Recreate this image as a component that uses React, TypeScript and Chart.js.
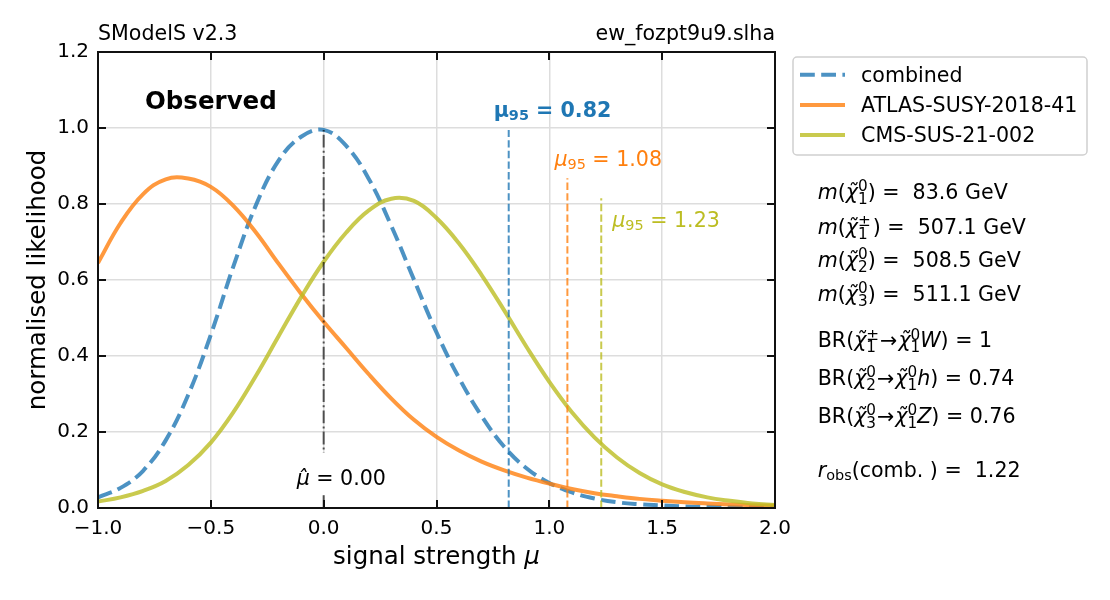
import React, { useEffect, useRef } from "react";
import { Chart, registerables } from "chart.js";

Chart.register(...registerables);

const FAMILY = '"DejaVu Sans"';

// ---------------- data ----------------
const muGrid = [
  -1.0, -0.9, -0.8, -0.7, -0.6, -0.5, -0.4, -0.3, -0.2, -0.1, 0.0, 0.1, 0.2, 0.3, 0.4, 0.5,
  0.6, 0.7, 0.8, 0.9, 1.0, 1.1, 1.2, 1.3, 1.4, 1.5, 1.6, 1.7, 1.8, 1.9, 2.0,
];
const combinedLik = [
  0.028, 0.053, 0.098, 0.178, 0.298, 0.456, 0.636, 0.797, 0.914, 0.977, 0.995, 0.953, 0.866,
  0.742, 0.601, 0.462, 0.342, 0.242, 0.161, 0.104, 0.066, 0.041, 0.025, 0.015, 0.01, 0.007,
  0.004, 0.003, 0.002, 0.001, 0.001,
];
const atlasLik = [
  0.645, 0.75, 0.826, 0.865, 0.867, 0.845, 0.795, 0.725, 0.643, 0.564, 0.49, 0.421, 0.352,
  0.288, 0.232, 0.187, 0.151, 0.122, 0.099, 0.08, 0.064, 0.05, 0.039, 0.031, 0.024, 0.019, 0.015,
  0.012, 0.0095, 0.0075, 0.006,
];
const cmsLik = [
  0.017, 0.028, 0.045, 0.071, 0.113, 0.172, 0.252, 0.348, 0.452, 0.555, 0.648, 0.725, 0.783,
  0.814, 0.808, 0.763, 0.696, 0.613, 0.52, 0.423, 0.332, 0.252, 0.186, 0.133, 0.092, 0.062,
  0.042, 0.028, 0.019, 0.012, 0.008,
];
const seriesNames = ["combined", "ATLAS-SUSY-2018-41", "CMS-SUS-21-002"];
const mu95Values = [0.82, 1.08, 1.23];
const mu95Tops = [0.995, 0.868, 0.815];
const muHatValue = 0.0;
const muHatTop = 0.995;
const xTickValues = [-1.0, -0.5, 0.0, 0.5, 1.0, 1.5, 2.0];
const yTickValues = [0.0, 0.2, 0.4, 0.6, 0.8, 1.0, 1.2];
const massSupers = ["0", "\u00b1", "0", "0"];
const massSubs = ["1", "1", "2", "3"];
const massValues = [83.6, 507.1, 508.5, 511.1];
const brValues = ["1", "0.74", "0.76"];
const rObsValue = 1.22;
const toolLabel = "SModelS v2.3";
const fileLabel = "ew_fozpt9u9.slha";

// ---------------- style ----------------
const lineColors = ["rgba(31,119,180,0.8)", "rgba(255,127,14,0.8)", "rgba(188,189,34,0.8)"];
const textColors = ["#1f77b4", "#ff7f0e", "#bcbd22"];
const curveDash = [[14.8, 6.4], [], []];
const TXT = 20.6;
const SCRIPT = 0.74;

type Seg =
  | { t: string; it?: boolean; bold?: boolean }
  | { sup?: string; sub?: string }
  | { gap: number };

function font(size: number, it = false, bold = false) {
  return `${it ? "italic " : ""}${bold ? "bold " : ""}${size}px ${FAMILY}`;
}

function measureRuns(ctx: CanvasRenderingContext2D, segs: Seg[], size: number, bold = false) {
  let w = 0;
  for (const s of segs) {
    if ("gap" in s) {
      w += s.gap;
    } else if ("t" in s) {
      ctx.font = font(size, s.it, bold || s.bold);
      w += ctx.measureText(s.t).width;
    } else {
      ctx.font = font(size * SCRIPT, false, bold);
      w += Math.max(
        s.sup ? ctx.measureText(s.sup).width : 0,
        s.sub ? ctx.measureText(s.sub).width : 0
      );
    }
  }
  return w;
}

function drawRuns(
  ctx: CanvasRenderingContext2D,
  x: number,
  y: number,
  segs: Seg[],
  size: number,
  color: string,
  bold = false
) {
  ctx.fillStyle = color;
  ctx.textAlign = "left";
  ctx.textBaseline = "alphabetic";
  let cx = x;
  for (const s of segs) {
    if ("gap" in s) {
      cx += s.gap;
    } else if ("t" in s) {
      ctx.font = font(size, s.it, bold || s.bold);
      ctx.fillText(s.t, cx, y);
      cx += ctx.measureText(s.t).width;
    } else {
      const both = !!s.sup && !!s.sub;
      const ss = size * (both ? SCRIPT : 0.7);
      ctx.font = font(ss, false, bold);
      let w = 0;
      if (s.sup) {
        ctx.fillText(s.sup, cx, y - size * 0.37);
        w = Math.max(w, ctx.measureText(s.sup).width);
      }
      if (s.sub) {
        ctx.fillText(s.sub, cx, y + size * (both ? 0.25 : 0.17));
        w = Math.max(w, ctx.measureText(s.sub).width);
      }
      cx += w;
    }
  }
  return cx;
}

const CHI = "\u03c7\u0303";

const annotatePlugin = {
  id: "annotate",
  beforeDraw(chart: any) {
    const ctx = chart.ctx as CanvasRenderingContext2D;
    ctx.save();
    ctx.fillStyle = "#ffffff";
    ctx.fillRect(0, 0, chart.width, chart.height);
    ctx.restore();
  },
  afterDatasetsDraw(chart: any) {
    const ctx = chart.ctx as CanvasRenderingContext2D;
    const xs = chart.scales.x;
    const ys = chart.scales.y;
    ctx.save();
    // mu-hat label with white box
    const hx = xs.getPixelForValue(muHatValue);
    const hy = ys.getPixelForValue(0);
    ctx.fillStyle = "#ffffff";
    ctx.fillRect(hx - 31, hy - 55, 93, 42);
    drawRuns(
      ctx,
      hx - 27,
      hy - 23,
      [{ t: "\u03bc\u0302", it: true }, { t: " = " + muHatValue.toFixed(2) }],
      TXT,
      "#000000"
    );
    // mu95 labels (offsets relative to the top of each vertical line)
    const offs = [
      [-15, -13.2],
      [-13, -12.2],
      [11, 28.4],
    ];
    mu95Values.forEach((m, i) => {
      const px = xs.getPixelForValue(m) + offs[i][0];
      const py = ys.getPixelForValue(mu95Tops[i]) + offs[i][1];
      const bold = i === 0;
      drawRuns(
        ctx,
        px,
        py,
        [{ t: "\u03bc", it: !bold }, { sub: "95" }, { t: " = " + m.toFixed(2) }],
        TXT,
        textColors[i],
        bold
      );
    });
    ctx.restore();
  },
  afterDraw(chart: any) {
    const ctx = chart.ctx as CanvasRenderingContext2D;
    const a = chart.chartArea;
    const xs = chart.scales.x;
    const ys = chart.scales.y;
    ctx.save();
    // frame
    ctx.strokeStyle = "#111111";
    ctx.lineWidth = 2;
    ctx.strokeRect(a.left, a.top, a.right - a.left, a.bottom - a.top);
    // inward ticks on all sides
    ctx.lineWidth = 2;
    ctx.beginPath();
    const TL = 8;
    xTickValues.forEach((v) => {
      const px = Math.round(xs.getPixelForValue(v));
      ctx.moveTo(px, a.bottom);
      ctx.lineTo(px, a.bottom - TL);
      ctx.moveTo(px, a.top);
      ctx.lineTo(px, a.top + TL);
    });
    yTickValues.forEach((v) => {
      const py = Math.round(ys.getPixelForValue(v));
      ctx.moveTo(a.left, py);
      ctx.lineTo(a.left + TL, py);
      ctx.moveTo(a.right, py);
      ctx.lineTo(a.right - TL, py);
    });
    ctx.stroke();

    // top texts
    ctx.fillStyle = "#000";
    ctx.font = font(TXT);
    ctx.textBaseline = "alphabetic";
    ctx.textAlign = "left";
    ctx.fillText(toolLabel, a.left, a.top - 12.5);
    ctx.textAlign = "right";
    ctx.fillText(fileLabel, a.right, a.top - 12.5);
    ctx.textAlign = "left";
    ctx.font = font(24.5, false, true);
    ctx.fillText("Observed", a.left + 47, a.top + 57.3);

    // axis labels
    const xl: Seg[] = [{ t: "signal strength " }, { t: "\u03bc", it: true }];
    const xw = measureRuns(ctx, xl, 24.5);
    drawRuns(ctx, (a.left + a.right) / 2 - xw / 2, 564, xl, 24.5, "#000");
    ctx.save();
    ctx.translate(45, (a.top + a.bottom) / 2);
    ctx.rotate(-Math.PI / 2);
    ctx.font = font(24.5);
    ctx.textAlign = "center";
    ctx.fillStyle = "#000";
    ctx.fillText("normalised likelihood", 0, 0);
    ctx.restore();

    // legend
    const lx = 793;
    const ly = 57;
    ctx.beginPath();
    (ctx as any).roundRect(lx, ly, 294, 98, 4);
    ctx.fillStyle = "rgba(255,255,255,0.8)";
    ctx.fill();
    ctx.strokeStyle = "#d0d0d0";
    ctx.lineWidth = 1.5;
    ctx.stroke();
    seriesNames.forEach((name, i) => {
      const base = 81.7 + i * 30.2;
      const my = base - 7;
      ctx.beginPath();
      ctx.setLineDash(curveDash[i]);
      ctx.strokeStyle = lineColors[i];
      ctx.lineWidth = 4;
      ctx.moveTo(800, my);
      ctx.lineTo(845, my);
      ctx.stroke();
      ctx.setLineDash([]);
      ctx.fillStyle = "#000";
      ctx.font = font(TXT);
      ctx.textAlign = "left";
      ctx.fillText(name, 861, base);
    });

    // info block
    const ix = 817.7;
    const massBase = [199, 234, 266.7, 300.7];
    massValues.forEach((mv, i) => {
      drawRuns(
        ctx,
        ix,
        massBase[i],
        [
          { t: "m", it: true },
          { t: "(" },
          { t: CHI, it: true },
          { sup: massSupers[i], sub: massSubs[i] },
          { gap: i === 1 ? 2 : 0 },
          { t: ")" },
          { t: " =  " + mv.toFixed(1) + " GeV" },
        ],
        TXT,
        "#000"
      );
    });
    const brFrom = [
      ["\u00b1", "1"],
      ["0", "2"],
      ["0", "3"],
    ];
    const brTo = ["W", "h", "Z"];
    const brBase = [347.3, 385, 422.7];
    brValues.forEach((bv, i) => {
      drawRuns(
        ctx,
        ix,
        brBase[i],
        [
          { t: "BR(" },
          { t: CHI, it: true },
          { sup: brFrom[i][0], sub: brFrom[i][1] },
          { gap: 1 },
          { t: "\u2192" },
          { gap: 1 },
          { t: CHI, it: true },
          { sup: "0", sub: "1" },
          { t: brTo[i], it: true },
          { t: ")" },
          { t: " = " + bv },
        ],
        TXT,
        "#000"
      );
    });
    drawRuns(
      ctx,
      ix,
      476.7,
      [{ t: "r", it: true }, { sub: "obs" }, { t: "(comb. )" }, { t: " =  " + rObsValue.toFixed(2) }],
      TXT,
      "#000"
    );
    ctx.restore();
  },
};

const fmtTick = (v: number) => (v < 0 ? "\u2212" : "") + Math.abs(v).toFixed(1);

export default function App() {
  const ref = useRef<HTMLCanvasElement>(null);
  useEffect(() => {
    const canvas = ref.current;
    if (!canvas) return;
    const curves = [combinedLik, atlasLik, cmsLik];
    const datasets: any[] = curves.map((ys, i) => ({
      label: seriesNames[i],
      data: muGrid.map((x, j) => ({ x, y: ys[j] })),
      borderColor: lineColors[i],
      borderWidth: 4,
      borderDash: curveDash[i],
      pointRadius: 0,
      tension: 0.4,
      fill: false,
      order: 3 - i,
    }));
    mu95Values.forEach((m, i) => {
      datasets.push({
        label: "mu95_" + i,
        data: [
          { x: m, y: 0 },
          { x: m, y: mu95Tops[i] },
        ],
        borderColor: lineColors[i],
        borderWidth: 2,
        borderDash: [7.4, 3.2],
        pointRadius: 0,
        fill: false,
        order: 0,
      });
    });
    datasets.push({
      label: "muhat",
      data: [
        { x: muHatValue, y: 0 },
        { x: muHatValue, y: muHatTop },
      ],
      borderColor: "rgba(0,0,0,0.65)",
      borderWidth: 2,
      borderDash: [12.8, 3.2, 2, 3.2],
      pointRadius: 0,
      fill: false,
      order: 0,
    });

    const tickFont = { family: "DejaVu Sans", size: 20 };
    const chart = new Chart(canvas, {
      type: "line",
      data: { datasets },
      options: {
        responsive: false,
        animation: false,
        layout: { padding: { top: 52, right: 335, left: 0, bottom: 0 } },
        plugins: {
          legend: { display: false },
          tooltip: { enabled: false },
          title: { display: false },
        },
        scales: {
          x: {
            type: "linear",
            min: -1,
            max: 2,
            afterBuildTicks: (s: any) => {
              s.ticks = xTickValues.map((v) => ({ value: v }));
            },
            afterFit: (s: any) => {
              s.height = 92;
            },
            grid: { color: "#dddddd", lineWidth: 1.5, drawTicks: false },
            border: { display: false },
            ticks: {
              padding: 9,
              font: tickFont,
              color: "#000",
              maxRotation: 0,
              autoSkip: false,
              callback: (v: any) => fmtTick(Number(v)),
            },
          },
          y: {
            type: "linear",
            min: 0,
            max: 1.2,
            afterBuildTicks: (s: any) => {
              s.ticks = yTickValues.map((v) => ({ value: v }));
            },
            afterFit: (s: any) => {
              s.width = 98;
            },
            grid: { color: "#dddddd", lineWidth: 1.5, drawTicks: false },
            border: { display: false },
            ticks: {
              padding: 9,
              font: tickFont,
              color: "#000",
              autoSkip: false,
              callback: (v: any) => fmtTick(Number(v)),
            },
          },
        },
      },
      plugins: [annotatePlugin],
    } as any);
    return () => chart.destroy();
  }, []);
  return (
    <div style={{ position: "absolute", left: 0, top: 0, width: 1110, height: 600, background: "#fff" }}>
      <canvas ref={ref} width={1110} height={600} style={{ display: "block", width: 1110, height: 600 }} />
    </div>
  );
}
